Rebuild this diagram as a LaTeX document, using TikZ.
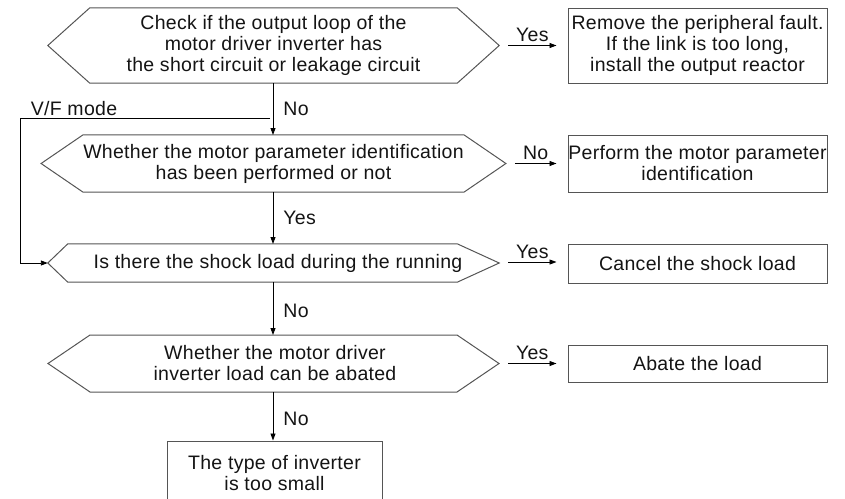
\documentclass[tikz,border=0pt]{standalone}
\usepackage{fontspec}
\setmainfont{Liberation Sans}[LetterSpace=1.5]
\usetikzlibrary{arrows.meta,calc}
\definecolor{shpcol}{RGB}{85,85,85}
\definecolor{txtcol}{RGB}{20,20,20}
\begin{document}
\begin{tikzpicture}[x=1pt,y=-1pt,
  body/.style={inner sep=0pt, align=center, text=txtcol,
    font=\fontsize{19.5}{21}\selectfont},
  boxnode/.style={body, draw=shpcol, line width=1pt},
  shp/.style={draw=shpcol, line width=1pt},
  conn/.style={draw=black, line width=0.9pt, -{Triangle[length=7pt,width=5pt]}},
  lbl/.style={inner sep=0pt, text=txtcol, font=\fontsize{19.5}{21}\selectfont}]
\useasboundingbox (0,0) rectangle (845,498);
\clip (0,0) rectangle (845,498);

% decision 1
\node[body, minimum width=367pt, minimum height=75pt] (h1) at (273.5,45.5)
  {Check if the output loop of the\\motor driver inverter has\\the short circuit or leakage circuit};
\coordinate (h1l) at ($(h1.west)+(-42,0)$);
\coordinate (h1r) at ($(h1.east)+(42,0)$);
\draw[shp] (h1.north west) -- (h1.north east) -- (h1r) -- (h1.south east) -- (h1.south west) -- (h1l) -- cycle;

% decision 2
\node[body, minimum width=367pt, minimum height=57pt] (h2) at (273.5,163.5)
  {Whether the motor parameter identification\\has been performed or not};
\coordinate (h2l) at ($(h2.west)+(-42,0)$);
\coordinate (h2r) at ($(h2.east)+(42,0)$);
\draw[shp] (h2.north west) -- (h2.north east) -- (h2r) -- (h2.south east) -- (h2.south west) -- (h2l) -- cycle;

% decision 3
\node[minimum width=389pt, minimum height=38pt, inner sep=0pt] (h3) at (262.5,263) {};
\node[body] (t3) at (278,263) {Is there the shock load during the running};
\coordinate (h3l) at ($(h3.west)+(-20,0)$);
\coordinate (h3r) at ($(h3.east)+(42,0)$);
\draw[shp] (h3.north west) -- (h3.north east) -- (h3r) -- (h3.south east) -- (h3.south west) -- (h3l) -- cycle;

% decision 4
\node[body, minimum width=367pt, minimum height=57pt] (h4) at (275,363.5)
  {Whether the motor driver\\inverter load can be abated};
\coordinate (h4c) at (273.5,363.5);
\coordinate (h4l) at (48,363.5);
\coordinate (h4r) at (499,363.5);
\draw[shp] (90,335) coordinate (h4nw) -- (457,335) -- (h4r) -- (457,392) -- (90,392) coordinate (h4sw) -- (h4l) -- cycle;

% boxes
\node[boxnode, minimum width=259pt, minimum height=75pt] (b1) at (697.5,45.5)
  {Remove the peripheral fault.\\If the link is too long,\\install the output reactor};
\node[boxnode, minimum width=259pt, minimum height=57pt] (b2) at (697.5,163.5)
  {Perform the motor parameter\\identification};
\node[boxnode, minimum width=259pt, minimum height=39pt] (b3) at (697.5,263.5)
  {Cancel the shock load};
\node[boxnode, minimum width=259pt, minimum height=37pt] (b4) at (697.5,363.5)
  {Abate the load};
\node[boxnode, minimum width=215pt, minimum height=64pt] (f) at (274.5,473)
  {The type of inverter\\is too small};

% horizontal connectors
\draw[conn] ($(h1r)+(9,0)$) -- ($(b1.west)+(-11,0)$) node[lbl, midway, above=3pt] {Yes};
\draw[conn] ($(h2r)+(9,0)$) -- ($(b2.west)+(-11,0)$) node[lbl, midway, above=3pt] {No};
\draw[conn] ($(h3r)+(9,-1)$) -- ($(b3.west)+(-11,-1.5)$) node[lbl, midway, above=3pt] {Yes};
\draw[conn] ($(h4r)+(9,0)$) -- ($(b4.west)+(-11,0)$) node[lbl, midway, above=3pt] {Yes};

% vertical connectors
\draw[conn] (273,83) -- (273,135) node[lbl, midway, right=10pt] {No};
\draw[conn] (273,192) -- (273,244) node[lbl, midway, right=10pt] {Yes};
\draw[conn] (273,282) -- (273,335) node[lbl, pos=0.55, right=10pt] {No};
\draw[conn] (273,392) -- (f.north -| 273,0) node[lbl, pos=0.55, right=10pt] {No};

% V/F mode loop
\coordinate (vf0) at (270,118);
\coordinate (vf1) at (20.7,118);
\draw[conn] (vf0) -- (vf1) |- (h3l);
\node[lbl] (vfl) at (74,109) {V/F mode};
\end{tikzpicture}
\end{document}
